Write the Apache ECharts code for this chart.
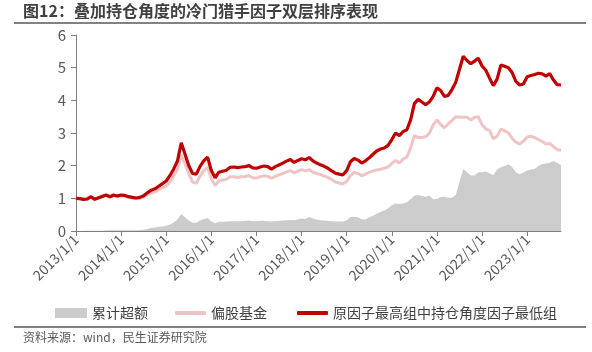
<!DOCTYPE html>
<html>
<head>
<meta charset="utf-8">
<script src="https://cdn.jsdelivr.net/npm/echarts@6/dist/echarts.min.js"></script>
<style>
  html, body { margin: 0; padding: 0; background: #fff; }
  #chart { width: 592px; height: 352px; }
</style>
</head>
<body>
<div id="chart"></div>
<script>
// monthly points, 2013/1 .. 2023/10
var startYear = 2013;
var monthCount = 130;

var excessValues = [
    0.00,0.00,0.01,0.01,0.01,0.01,0.01,0.01,0.02,0.02,
    0.02,0.02,0.02,0.02,0.02,0.02,0.02,0.03,0.04,0.06,
    0.09,0.11,0.13,0.14,0.16,0.20,0.26,0.36,0.52,0.42,
    0.32,0.25,0.25,0.32,0.37,0.40,0.30,0.24,0.28,0.28,
    0.29,0.30,0.30,0.30,0.30,0.31,0.32,0.30,0.30,0.31,
    0.31,0.30,0.29,0.30,0.31,0.32,0.33,0.34,0.33,0.35,
    0.38,0.37,0.43,0.38,0.35,0.33,0.32,0.31,0.30,0.29,
    0.29,0.29,0.33,0.43,0.44,0.42,0.36,0.35,0.42,0.47,
    0.53,0.58,0.63,0.70,0.79,0.84,0.83,0.84,0.88,0.97,
    1.08,1.10,1.07,1.05,1.08,0.97,0.98,1.04,1.05,1.02,
    1.02,1.10,1.50,1.90,1.80,1.70,1.70,1.80,1.80,1.82,
    1.77,1.71,1.88,1.95,1.99,2.04,1.96,1.80,1.74,1.79,
    1.85,1.88,1.90,2.00,2.05,2.07,2.09,2.14,2.08,2.02
];

var fundValues = [
    1.00,0.99,0.97,0.97,1.04,0.97,1.01,1.05,1.09,1.04,
    1.08,1.05,1.08,1.07,1.03,1.01,0.99,1.00,1.04,1.11,
    1.17,1.20,1.26,1.33,1.38,1.50,1.68,1.88,2.33,2.05,
    1.75,1.50,1.46,1.68,1.85,1.95,1.60,1.40,1.53,1.56,
    1.58,1.66,1.66,1.64,1.66,1.67,1.70,1.63,1.62,1.66,
    1.69,1.67,1.61,1.67,1.72,1.76,1.81,1.85,1.78,1.83,
    1.88,1.84,1.88,1.80,1.76,1.73,1.68,1.64,1.58,1.50,
    1.47,1.44,1.52,1.70,1.79,1.76,1.69,1.74,1.80,1.84,
    1.87,1.89,1.92,1.96,2.07,2.16,2.08,2.20,2.26,2.55,
    2.92,2.86,2.86,2.89,2.99,3.25,3.40,3.26,3.16,3.28,
    3.38,3.50,3.49,3.48,3.48,3.40,3.48,3.50,3.25,3.12,
    3.08,2.82,2.90,3.12,3.07,3.00,2.84,2.72,2.66,2.75,
    2.88,2.90,2.86,2.80,2.74,2.66,2.68,2.58,2.49,2.47
];

var factorValues = [
    1.00,0.99,0.97,0.98,1.05,0.97,1.02,1.06,1.10,1.05,
    1.10,1.07,1.10,1.09,1.05,1.03,1.01,1.03,1.08,1.17,
    1.25,1.29,1.37,1.45,1.53,1.70,1.90,2.15,2.70,2.35,
    2.00,1.76,1.74,1.98,2.15,2.26,1.85,1.63,1.80,1.83,
    1.86,1.95,1.96,1.94,1.96,1.97,2.00,1.93,1.92,1.96,
    1.99,1.97,1.89,1.97,2.02,2.08,2.14,2.19,2.10,2.16,
    2.21,2.18,2.25,2.15,2.08,2.03,1.98,1.92,1.84,1.77,
    1.74,1.72,1.85,2.12,2.22,2.17,2.08,2.15,2.24,2.35,
    2.45,2.51,2.54,2.62,2.80,3.00,2.92,3.04,3.10,3.40,
    3.90,4.03,3.95,3.87,3.95,4.12,4.38,4.30,4.12,4.15,
    4.33,4.55,4.95,5.35,5.22,5.12,5.20,5.29,5.05,4.92,
    4.68,4.45,4.65,5.08,5.04,5.00,4.85,4.58,4.47,4.50,
    4.72,4.76,4.79,4.83,4.81,4.74,4.82,4.62,4.48,4.47
];

var seriesNames = ['累计超额', '偏股基金', '原因子最高组中持仓角度因子最低组'];

var categories = [];
for (var i = 0; i < monthCount; i++) {
    var y = startYear + Math.floor(i / 12);
    var m = i % 12 + 1;
    categories.push(y + '/' + m + '/1');
}

function yearStart(idx) {
    return idx % 12 === 0;
}

var myChart = echarts.init(document.getElementById('chart'));

var legendText = { fontSize: 14, color: '#404040' };

var option = {
    animation: false,
    textStyle: { fontFamily: '"Noto Sans CJK SC", "Noto Sans", sans-serif' },
    grid: { left: 76, right: 31, top: 35, bottom: 121 },
    legend: [
        {
            left: 50,
            top: 301,
            itemWidth: 32,
            itemHeight: 10,
            textStyle: legendText,
            data: [{ name: seriesNames[0], icon: 'rect' }]
        },
        {
            left: 170,
            top: 301,
            itemWidth: 31,
            itemHeight: 4,
            itemGap: 30,
            icon: 'roundRect',
            textStyle: legendText,
            data: [seriesNames[1], seriesNames[2]]
        }
    ],
    xAxis: {
        type: 'category',
        data: categories,
        boundaryGap: false,
        axisLine: { lineStyle: { color: '#7f7f7f', width: 1 } },
        axisTick: {
            length: 5,
            lineStyle: { color: '#7f7f7f' },
            interval: yearStart
        },
        axisLabel: {
            rotate: 45,
            fontSize: 14,
            color: '#595959',
            margin: 6,
            interval: yearStart
        }
    },
    yAxis: {
        type: 'value',
        min: 0,
        max: 6,
        interval: 1,
        splitLine: { show: false },
        axisLine: { show: true, lineStyle: { color: '#7f7f7f', width: 1 } },
        axisTick: { show: true, length: 5, lineStyle: { color: '#7f7f7f' } },
        axisLabel: { fontSize: 15, color: '#595959', margin: 10 }
    },
    series: [
        {
            name: seriesNames[0],
            type: 'line',
            data: excessValues,
            symbol: 'none',
            lineStyle: { width: 0, color: '#cccccc' },
            itemStyle: { color: '#cccccc' },
            areaStyle: { color: '#cccccc', opacity: 1 },
            z: 1
        },
        {
            name: seriesNames[1],
            type: 'line',
            data: fundValues,
            symbol: 'none',
            lineStyle: { width: 3, color: '#f0c4c4' },
            itemStyle: { color: '#f0c4c4' },
            z: 2
        },
        {
            name: seriesNames[2],
            type: 'line',
            data: factorValues,
            symbol: 'none',
            lineStyle: { width: 3.2, color: '#c00000' },
            itemStyle: { color: '#c00000' },
            z: 3
        }
    ],
    graphic: [
        {
            type: 'text',
            left: 23,
            top: 3,
            style: {
                text: '图12：叠加持仓角度的冷门猎手因子双层排序表现',
                fontSize: 16,
                fontWeight: 'bold',
                fill: '#404040',
                fontFamily: '"Noto Sans CJK SC", sans-serif'
            }
        },
        {
            type: 'line',
            shape: { x1: 14, y1: 23, x2: 586, y2: 23 },
            style: { stroke: '#595959', lineWidth: 1.5 }
        },
        {
            type: 'line',
            shape: { x1: 14, y1: 327, x2: 586, y2: 327 },
            style: { stroke: '#595959', lineWidth: 1.5 }
        },
        {
            type: 'text',
            left: 23,
            top: 331,
            style: {
                text: '资料来源：wind，民生证券研究院',
                fontSize: 12,
                fill: '#595959',
                fontFamily: '"Noto Sans CJK SC", sans-serif'
            }
        }
    ]
};

myChart.setOption(option);
</script>
</body>
</html>
